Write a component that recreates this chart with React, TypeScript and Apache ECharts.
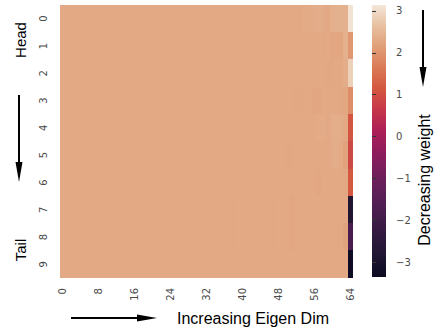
import React, { useEffect, useRef } from "react";
import * as echarts from "echarts";

const xCategories = Array.from({ length: 65 }, (_, i) => String(i));
const yCategories = ["0", "1", "2", "3", "4", "5", "6", "7", "8", "9"];

const row0 = [
  2.3, 2.3, 2.3, 2.3, 2.3, 2.3, 2.3, 2.3,
  2.3, 2.3, 2.3, 2.3, 2.3, 2.3, 2.3, 2.3,
  2.3, 2.3, 2.3, 2.3, 2.3, 2.3, 2.3, 2.3,
  2.3, 2.3, 2.3, 2.3, 2.3, 2.3, 2.3, 2.3,
  2.3, 2.3, 2.3, 2.3, 2.3, 2.3, 2.3, 2.3,
  2.3, 2.3, 2.3, 2.3, 2.3, 2.3, 2.3, 2.3,
  2.3, 2.3, 2.3, 2.3, 2.3, 2.3, 2.32, 2.32,
  2.33, 2.35, 2.33, 2.3, 2.38, 2.42, 2.42, 2.4,
  3.1,
];
const row1 = [
  2.3, 2.3, 2.3, 2.3, 2.3, 2.3, 2.3, 2.3,
  2.3, 2.3, 2.3, 2.3, 2.3, 2.3, 2.3, 2.3,
  2.3, 2.3, 2.3, 2.3, 2.3, 2.3, 2.3, 2.3,
  2.3, 2.3, 2.3, 2.3, 2.3, 2.3, 2.3, 2.3,
  2.3, 2.3, 2.3, 2.3, 2.3, 2.3, 2.3, 2.3,
  2.3, 2.3, 2.3, 2.3, 2.3, 2.3, 2.3, 2.3,
  2.3, 2.3, 2.3, 2.3, 2.3, 2.3, 2.3, 2.3,
  2.3, 2.3, 2.28, 2.3, 2.27, 2.25, 2.25, 2.4,
  2.05,
];
const row2 = [
  2.3, 2.3, 2.3, 2.3, 2.3, 2.3, 2.3, 2.3,
  2.3, 2.3, 2.3, 2.3, 2.3, 2.3, 2.3, 2.3,
  2.3, 2.3, 2.3, 2.3, 2.3, 2.3, 2.3, 2.3,
  2.3, 2.3, 2.3, 2.3, 2.3, 2.3, 2.3, 2.3,
  2.3, 2.3, 2.3, 2.3, 2.3, 2.3, 2.3, 2.3,
  2.3, 2.3, 2.3, 2.3, 2.3, 2.3, 2.3, 2.3,
  2.3, 2.3, 2.3, 2.3, 2.3, 2.3, 2.3, 2.3,
  2.3, 2.3, 2.3, 2.28, 2.28, 2.3, 2.3, 2.36,
  2.85,
];
const row3 = [
  2.3, 2.3, 2.3, 2.3, 2.3, 2.3, 2.3, 2.3,
  2.3, 2.3, 2.3, 2.3, 2.3, 2.3, 2.3, 2.3,
  2.3, 2.3, 2.3, 2.3, 2.3, 2.3, 2.3, 2.3,
  2.3, 2.3, 2.3, 2.3, 2.3, 2.3, 2.3, 2.3,
  2.3, 2.3, 2.3, 2.3, 2.3, 2.3, 2.3, 2.3,
  2.3, 2.3, 2.3, 2.3, 2.3, 2.3, 2.3, 2.3,
  2.3, 2.3, 2.3, 2.3, 2.28, 2.28, 2.3, 2.3,
  2.27, 2.27, 2.3, 2.3, 2.3, 2.3, 2.28, 2.25,
  1.9,
];
const row4 = [
  2.3, 2.3, 2.3, 2.3, 2.3, 2.3, 2.3, 2.3,
  2.3, 2.3, 2.3, 2.3, 2.3, 2.3, 2.3, 2.3,
  2.3, 2.3, 2.3, 2.3, 2.3, 2.3, 2.3, 2.3,
  2.3, 2.3, 2.3, 2.3, 2.3, 2.3, 2.3, 2.3,
  2.3, 2.3, 2.3, 2.3, 2.3, 2.3, 2.3, 2.3,
  2.3, 2.3, 2.3, 2.3, 2.3, 2.3, 2.3, 2.3,
  2.3, 2.3, 2.3, 2.3, 2.3, 2.3, 2.3, 2.3,
  2.3, 2.33, 2.33, 2.3, 2.35, 2.37, 2.35, 2.3,
  1.1,
];
const row5 = [
  2.3, 2.3, 2.3, 2.3, 2.3, 2.3, 2.3, 2.3,
  2.3, 2.3, 2.3, 2.3, 2.3, 2.3, 2.3, 2.3,
  2.3, 2.3, 2.3, 2.3, 2.3, 2.3, 2.3, 2.3,
  2.3, 2.3, 2.3, 2.3, 2.3, 2.3, 2.3, 2.3,
  2.3, 2.3, 2.3, 2.3, 2.3, 2.3, 2.3, 2.3,
  2.3, 2.3, 2.3, 2.3, 2.3, 2.3, 2.3, 2.3,
  2.3, 2.3, 2.28, 2.28, 2.3, 2.3, 2.3, 2.3,
  2.3, 2.3, 2.3, 2.3, 2.33, 2.35, 2.3, 2.2,
  0.9,
];
const row6 = [
  2.3, 2.3, 2.3, 2.3, 2.3, 2.3, 2.3, 2.3,
  2.3, 2.3, 2.3, 2.3, 2.3, 2.3, 2.3, 2.3,
  2.3, 2.3, 2.3, 2.3, 2.3, 2.3, 2.3, 2.3,
  2.3, 2.3, 2.3, 2.3, 2.3, 2.3, 2.3, 2.3,
  2.3, 2.3, 2.3, 2.3, 2.3, 2.3, 2.3, 2.3,
  2.3, 2.3, 2.3, 2.3, 2.3, 2.3, 2.3, 2.3,
  2.3, 2.3, 2.3, 2.3, 2.3, 2.3, 2.3, 2.3,
  2.3, 2.27, 2.3, 2.3, 2.3, 2.3, 2.3, 2.28,
  1.15,
];
const row7 = [
  2.3, 2.3, 2.3, 2.3, 2.3, 2.3, 2.3, 2.3,
  2.3, 2.3, 2.3, 2.3, 2.3, 2.3, 2.3, 2.3,
  2.3, 2.3, 2.3, 2.3, 2.3, 2.3, 2.3, 2.3,
  2.3, 2.3, 2.3, 2.3, 2.3, 2.3, 2.3, 2.3,
  2.3, 2.3, 2.3, 2.3, 2.3, 2.3, 2.28, 2.3,
  2.3, 2.3, 2.3, 2.3, 2.3, 2.3, 2.3, 2.28,
  2.3, 2.3, 2.3, 2.27, 2.3, 2.3, 2.3, 2.3,
  2.3, 2.3, 2.3, 2.3, 2.3, 2.3, 2.3, 2.3,
  -2.8,
];
const row8 = [
  2.3, 2.3, 2.3, 2.3, 2.3, 2.3, 2.3, 2.3,
  2.3, 2.3, 2.3, 2.3, 2.3, 2.3, 2.3, 2.3,
  2.3, 2.3, 2.3, 2.3, 2.3, 2.3, 2.3, 2.3,
  2.3, 2.3, 2.3, 2.3, 2.3, 2.3, 2.3, 2.3,
  2.3, 2.3, 2.3, 2.3, 2.3, 2.3, 2.28, 2.3,
  2.3, 2.3, 2.3, 2.3, 2.3, 2.3, 2.3, 2.28,
  2.3, 2.3, 2.3, 2.27, 2.3, 2.3, 2.3, 2.3,
  2.3, 2.3, 2.3, 2.3, 2.3, 2.3, 2.3, 2.2,
  -1.8,
];
const row9 = [
  2.3, 2.3, 2.3, 2.3, 2.3, 2.3, 2.3, 2.3,
  2.3, 2.3, 2.3, 2.3, 2.3, 2.3, 2.3, 2.3,
  2.3, 2.3, 2.3, 2.3, 2.3, 2.3, 2.3, 2.3,
  2.3, 2.3, 2.3, 2.3, 2.3, 2.3, 2.3, 2.3,
  2.3, 2.3, 2.3, 2.3, 2.3, 2.3, 2.3, 2.3,
  2.3, 2.3, 2.3, 2.3, 2.3, 2.3, 2.3, 2.3,
  2.3, 2.3, 2.3, 2.3, 2.3, 2.3, 2.3, 2.3,
  2.3, 2.3, 2.3, 2.3, 2.3, 2.3, 2.3, 2.3,
  -3.3,
];
const rows = [row0, row1, row2, row3, row4, row5, row6, row7, row8, row9];

const colorMin = -3.35;
const colorMax = 3.14;
const colorbarTicks = [-3, -2, -1, 0, 1, 2, 3];
// muted "rocket" colormap, evenly spaced from colorMin to colorMax
const rocketColors = [
  "#0c0a22", "#1f1631", "#31193f", "#461d4d", "#5c1f58", "#731f5c", "#901c5c",
  "#ad1f57", "#c6364a", "#d4573f", "#da7a56", "#e09f78", "#e8c0a0", "#f3e6da",
];

const FONT = "'Liberation Sans', Arial, sans-serif";
const TICKFONT = "'DejaVu Sans', sans-serif";
const INK = "#010101";

export default function App() {
  const ref = useRef<HTMLDivElement>(null);
  useEffect(() => {
    if (!ref.current) return;
    const chart = echarts.init(ref.current, null, { renderer: "svg" });
    const data: number[][] = [];
    rows.forEach((r, y) => r.forEach((v, x) => data.push([x, y, v])));
    const n = rocketColors.length;
    const stops = rocketColors
      .map((c, i) => ({ offset: 1 - i / (n - 1), color: c }))
      .reverse();

    const gridLeft = 60;
    const gridTop = 5;
    const gridW = 292.5;
    const gridH = 273;
    const cbLeft = 372;
    const cbW = 14;

    chart.setOption({
      animation: false,
      grid: [
        { left: gridLeft, top: gridTop, width: gridW, height: gridH },
        { left: cbLeft, top: gridTop, width: cbW, height: 272 },
      ],
      xAxis: [
        {
          type: "category",
          data: xCategories,
          gridIndex: 0,
          axisLine: { show: false },
          axisTick: { show: false },
          splitLine: { show: false },
          axisLabel: {
            interval: 7,
            rotate: 90,
            margin: 10,
            fontSize: 10,
            color: "#4a4a4a",
            fontFamily: TICKFONT,
          },
        },
        { type: "value", gridIndex: 1, show: false, min: 0, max: 1 },
      ],
      yAxis: [
        {
          type: "category",
          data: yCategories,
          inverse: true,
          gridIndex: 0,
          axisLine: { show: false },
          axisTick: { show: false },
          splitLine: { show: false },
          axisLabel: {
            rotate: 90,
            margin: 12,
            fontSize: 10,
            color: "#4a4a4a",
            fontFamily: TICKFONT,
          },
        },
        {
          type: "value",
          gridIndex: 1,
          position: "right",
          min: colorMin,
          max: colorMax,
          axisLine: { show: false },
          splitLine: { show: false },
          axisTick: {
            show: true,
            length: 4,
            customValues: colorbarTicks,
            lineStyle: { color: "#333", width: 1 },
          },
          axisLabel: {
            customValues: colorbarTicks,
            margin: 10,
            fontSize: 10,
            color: "#4a4a4a",
            fontFamily: TICKFONT,
            formatter: (v: number) => (v < 0 ? "\u2212" + Math.abs(v) : String(v)),
          },
        },
      ],
      visualMap: {
        show: false,
        type: "continuous",
        min: colorMin,
        max: colorMax,
        seriesIndex: 0,
        dimension: 2,
        inRange: { color: rocketColors },
      },
      series: [
        {
          type: "heatmap",
          xAxisIndex: 0,
          yAxisIndex: 0,
          data,
          itemStyle: { borderWidth: 0 },
          emphasis: { disabled: true },
          progressive: 0,
        },
        {
          type: "scatter",
          xAxisIndex: 1,
          yAxisIndex: 1,
          data: [],
          silent: true,
        },
      ],
      graphic: [
        {
          type: "rect",
          shape: { x: cbLeft, y: gridTop, width: cbW, height: 272 },
          style: {
            fill: new echarts.graphic.LinearGradient(0, 0, 0, 1, stops),
          },
          z: -1,
        },
        {
          type: "text",
          x: 20,
          y: 40,
          rotation: Math.PI / 2,
          style: {
            text: "Head",
            font: `15px ${FONT}`,
            fill: "#000",
            textAlign: "center",
            textVerticalAlign: "middle",
          },
        },
        {
          type: "text",
          x: 20,
          y: 250,
          rotation: Math.PI / 2,
          style: {
            text: "Tail",
            font: `15px ${FONT}`,
            fill: "#000",
            textAlign: "center",
            textVerticalAlign: "middle",
          },
        },
        {
          type: "line",
          shape: { x1: 19, y1: 95, x2: 19, y2: 166 },
          style: { stroke: INK, lineWidth: 2 },
        },
        {
          type: "polygon",
          shape: { points: [[15.5, 162], [22.5, 162], [19, 182]] },
          style: { fill: INK },
        },
        {
          type: "text",
          x: 253,
          y: 318,
          style: {
            text: "Increasing Eigen Dim",
            font: `16px ${FONT}`,
            fill: "#000",
            textAlign: "center",
            textVerticalAlign: "middle",
          },
        },
        {
          type: "line",
          shape: { x1: 71, y1: 318, x2: 142, y2: 318 },
          style: { stroke: INK, lineWidth: 2 },
        },
        {
          type: "polygon",
          shape: { points: [[137, 314.5], [137, 321.5], [157, 318]] },
          style: { fill: INK },
        },
        {
          type: "text",
          x: 424,
          y: 180,
          rotation: Math.PI / 2,
          style: {
            text: "Decreasing weight",
            font: `16px ${FONT}`,
            fill: "#000",
            textAlign: "center",
            textVerticalAlign: "middle",
          },
        },
        {
          type: "line",
          shape: { x1: 423, y1: 10, x2: 423, y2: 72 },
          style: { stroke: INK, lineWidth: 2 },
        },
        {
          type: "polygon",
          shape: { points: [[419.5, 67], [426.5, 67], [423, 87]] },
          style: { fill: INK },
        },
      ],
    });
    return () => chart.dispose();
  }, []);
  return (
    <>
      <style>
        {
          ".hm-root svg path { shape-rendering: crispEdges; } " +
          ".hm-root svg path[fill='#010101'], .hm-root svg path[stroke='#010101'] { shape-rendering: geometricPrecision; }"
        }
      </style>
      <div
        ref={ref}
        className="hm-root"
        style={{ position: "absolute", left: 0, top: 0, width: 440, height: 328 }}
      />
    </>
  );
}
